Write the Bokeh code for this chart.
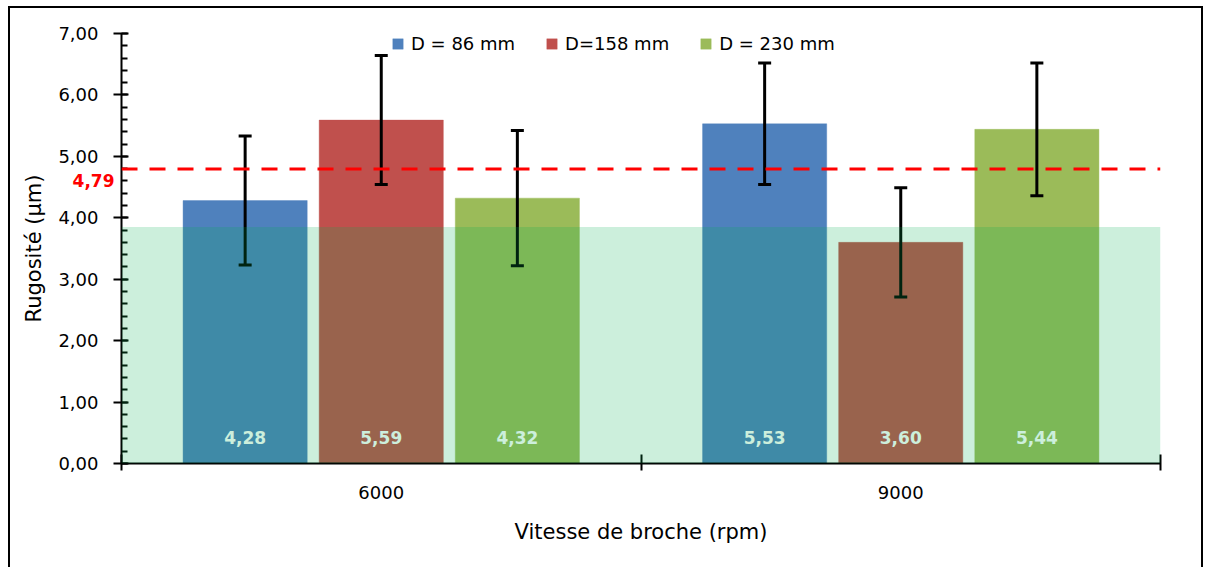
import numpy as np
from bokeh.plotting import figure
from bokeh.models import (ColumnDataSource, Range1d, FixedTicker, SingleIntervalTicker,
                          Whisker, TeeHead, Span, Label, BoxAnnotation, CustomJSTickFormatter)
from bokeh.core.properties import value
from bokeh.embed import file_html
from bokeh.resources import INLINE

# ---------------- data ----------------
categories = ["6000", "9000"]
series = ["D = 86 mm", "D=158 mm", "D = 230 mm"]
d86 = [4.28, 5.53]
d158 = [5.59, 3.60]
d230 = [4.32, 5.44]
err86 = [1.05, 0.99]
err158 = [1.05, 0.89]
err230 = [1.10, 1.08]
zone_top = 3.85
y_max = 7
x_title = "Vitesse de broche (rpm)"
y_title = "Rugosité (µm)"

# ---------------- style ----------------
colors = ["#4F81BD", "#C0504D", "#9BBB59"]
FONT = "DejaVu Sans"
offsets = [-0.262, 0.0, 0.262]
bar_w = 0.239

values = [d86, d158, d230]
errors = [err86, err158, err230]
mean_val = float(np.mean(d86 + d158 + d230))


def fr(v):
    return f"{v:.2f}".replace(".", ",")


p = figure(width=1195, height=561,
           x_range=Range1d(0, len(categories)), y_range=Range1d(0, y_max),
           output_backend="svg", toolbar_location=None,
           min_border_left=111, min_border_right=45, min_border_top=25, min_border_bottom=106)
p.styles = {"border-top": "2px solid black", "border-left": "2px solid black",
            "border-right": "2px solid black", "margin-left": "8px", "margin-top": "6px"}
p.background_fill_color = "white"
p.border_fill_color = "white"
p.outline_line_color = None
p.xgrid.visible = False
p.ygrid.visible = False

# ---- bars ----
whisk_srcs = []
for j, (name, vals, errs) in enumerate(zip(series, values, errors)):
    src = ColumnDataSource(dict(
        x=[i + 0.5 + offsets[j] for i in range(len(categories))],
        top=vals,
        upper=[v + e for v, e in zip(vals, errs)],
        lower=[v - e for v, e in zip(vals, errs)],
        label=[fr(v) for v in vals],
    ))
    p.vbar(x="x", top="top", width=bar_w, source=src, fill_color=colors[j],
           line_color=colors[j], line_alpha=0.4, legend_label=name)
    p.text(x="x", y=0, text="label", source=src, y_offset=-26,
           text_align="center", text_baseline="middle", text_color="white",
           text_font=value(FONT), text_font_style="bold", text_font_size="17px")
    whisk_srcs.append(src)

for src in whisk_srcs:
    w = Whisker(source=src, base="x", upper="upper", lower="lower", level="glyph",
                line_color="black", line_width=3,
                upper_head=TeeHead(size=13, line_width=3, line_color="black"),
                lower_head=TeeHead(size=13, line_width=3, line_color="black"))
    p.add_layout(w)

# ---- shaded zone ----
p.add_layout(BoxAnnotation(bottom=0, top=zone_top, fill_color="#00B050",
                           fill_alpha=0.2, line_alpha=0))

# ---- mean line ----
p.add_layout(Span(location=mean_val, dimension="width", line_color="#FF0000",
                  line_width=3, line_dash="16 12"))
p.add_layout(Label(x=0, y=mean_val, x_offset=-7, y_offset=-11, text=fr(mean_val),
                   text_align="right", text_baseline="middle", text_color="#FF0000",
                   text_font=FONT, text_font_style="bold", text_font_size="17px"), "above")

# ---- y axis ----
ya = p.yaxis[0]
ya.ticker = SingleIntervalTicker(interval=1, num_minor_ticks=5)
ya.formatter = CustomJSTickFormatter(code="return tick.toFixed(2).replace('.', ',');")
ya.axis_line_width = 2
ya.major_tick_line_width = 2
ya.minor_tick_line_width = 2
ya.major_tick_in = 7
ya.major_tick_out = 8
ya.minor_tick_in = 6
ya.minor_tick_out = 0
ya.major_label_standoff = 15
ya.major_label_text_font = FONT
ya.major_label_text_font_size = "18px"
ya.major_label_text_color = "black"
ya.axis_label = y_title
ya.axis_label_text_font = FONT
ya.axis_label_text_font_size = "21px"
ya.axis_label_text_font_style = "normal"
ya.axis_label_text_color = "black"
ya.axis_label_standoff = 9

# ---- x axis ----
xa = p.xaxis[0]
xa.ticker = FixedTicker(ticks=[i + 0.5 for i in range(len(categories))],
                        minor_ticks=[i for i in range(len(categories) + 1)])
xa.formatter = CustomJSTickFormatter(args=dict(cats=categories),
                                     code="return cats[Math.floor(tick)];")
xa.axis_line_width = 2
xa.major_tick_in = 0
xa.major_tick_out = 0
xa.minor_tick_in = 9
xa.minor_tick_out = 7
xa.minor_tick_line_width = 2
xa.major_label_standoff = 15
xa.major_label_text_font = FONT
xa.major_label_text_font_size = "18px"
xa.major_label_text_color = "black"
xa.axis_label = x_title
xa.axis_label_text_font = FONT
xa.axis_label_text_font_size = "21px"
xa.axis_label_text_font_style = "normal"
xa.axis_label_text_color = "black"
xa.axis_label_standoff = 18

# ---- legend ----
lg = p.legend[0]
lg.orientation = "horizontal"
lg.location = (270, 409)
lg.padding = 0
lg.margin = 0
lg.spacing = 30
lg.glyph_width = 13
lg.glyph_height = 13
lg.label_standoff = 7
lg.label_text_font = FONT
lg.label_text_font_size = "18px"
lg.label_text_color = "black"
lg.border_line_alpha = 0
lg.background_fill_alpha = 0

open("out.html", "w").write(file_html(p, INLINE))
